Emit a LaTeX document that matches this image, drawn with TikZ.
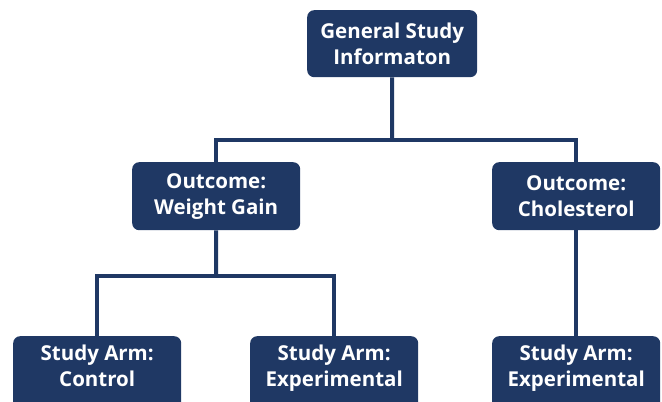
\documentclass[tikz,border=0pt]{standalone}
\usepackage{fontspec}
\setmainfont{Open Sans}
\definecolor{navy}{HTML}{1F3864}
\begin{document}
\begin{tikzpicture}[x=1pt,y=-1pt,
  txt/.style={text=white, font=\bfseries\fontsize{20.5}{26}\selectfont, align=center},
  box/.style={fill=navy, rounded corners=7pt, txt, inner sep=0pt, anchor=north west},
  conn/.style={draw=navy, line width=4pt}]
\useasboundingbox (0,0) rectangle (662,402);
\clip (0,0) rectangle (662,402);
\node[box, minimum width=170pt, minimum height=67pt] (top) at (307,10) {General Study\\Informaton};
\node[box, minimum width=168pt, minimum height=68pt] (wg) at (132,162) {Outcome:\\Weight Gain};
\node[box, minimum width=168pt, minimum height=68pt] (ch) at (492,162) {Outcome:\\Cholesterol};
\node[box, minimum width=168pt, minimum height=80pt] (c1) at (13,336) {};
\node[box, minimum width=168pt, minimum height=80pt] (e1) at (250,336) {};
\node[box, minimum width=168pt, minimum height=80pt] (e2) at (492,336) {};
\node[txt, anchor=north] (c1t) at ([yshift=-5pt]c1.north) {Study Arm:\\Control};
\node[txt, anchor=north] (e1t) at ([yshift=-5pt]e1.north) {Study Arm:\\Experimental};
\node[txt, anchor=north] (e2t) at ([yshift=-5pt]e2.north) {Study Arm:\\Experimental};
\coordinate (j1) at (392,140);
\coordinate (j2) at (216,276);
\draw[conn] (top.south) -- (j1);
\draw[conn] (wg.north) |- (j1) -| (ch.north);
\draw[conn] (wg.south) -- (j2);
\draw[conn] ([xshift=-119pt]j2 |- c1.north) |- (j2) -| ([xshift=118pt]j2 |- e1.north);
\draw[conn] (ch.south) -- (e2.north -| ch.south);
\end{tikzpicture}
\end{document}
